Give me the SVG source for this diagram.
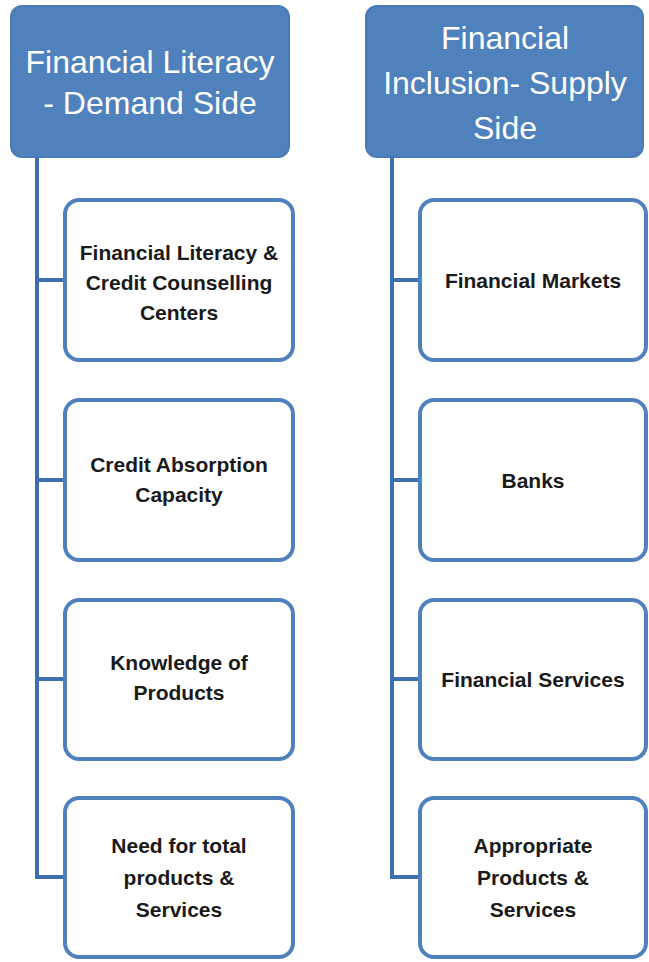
<svg xmlns="http://www.w3.org/2000/svg" width="649" height="962" viewBox="0 0 649 962">
<style>
.hdr{fill:#4F81BD;stroke:#4A7BB6;stroke-width:2}
.box{fill:#FFFFFF;stroke:#4F81BD;stroke-width:4}
.ht{font-family:"Liberation Sans",Arial,sans-serif;font-size:32px;fill:#FFFFFF;text-anchor:middle}
.bt{font-family:"Liberation Sans",Arial,sans-serif;font-size:21px;font-weight:bold;fill:#1A1A1A;text-anchor:middle}
.con{fill:none;stroke:#3E6FAE;stroke-width:4}
</style>
<rect width="649" height="962" fill="#FFFFFF"/>
<g id="connectors">
<path class="con" d="M37 158 V877 H65"/>
<path class="con" d="M37 280 H65 M37 480 H65 M37 679 H65"/>
<path class="con" d="M392 158 V877 H420"/>
<path class="con" d="M392 280 H420 M392 480 H420 M392 679 H420"/>
</g>
<g id="hdr-left">
<rect class="hdr" x="11" y="6" width="278" height="151" rx="11"/>
<text class="ht" x="150" y="73">Financial Literacy</text>
<text class="ht" x="150" y="114">- Demand Side</text>
</g>
<g id="hdr-right">
<rect class="hdr" x="366" y="6" width="277" height="151" rx="11"/>
<text class="ht" x="505" y="49">Financial</text>
<text class="ht" x="505" y="94">Inclusion- Supply</text>
<text class="ht" x="505" y="139">Side</text>
</g>
<g id="l1">
<rect class="box" x="65" y="200" width="228" height="160" rx="14"/>
<text class="bt" x="179" y="260">Financial Literacy &amp;</text>
<text class="bt" x="179" y="290">Credit Counselling</text>
<text class="bt" x="179" y="320">Centers</text>
</g>
<g id="l2">
<rect class="box" x="65" y="400" width="228" height="160" rx="14"/>
<text class="bt" x="179" y="472">Credit Absorption</text>
<text class="bt" x="179" y="502">Capacity</text>
</g>
<g id="l3">
<rect class="box" x="65" y="600" width="228" height="159" rx="14"/>
<text class="bt" x="179" y="670">Knowledge of</text>
<text class="bt" x="179" y="700">Products</text>
</g>
<g id="l4">
<rect class="box" x="65" y="798" width="228" height="159" rx="14"/>
<text class="bt" x="179" y="853">Need for total</text>
<text class="bt" x="179" y="885">products &amp;</text>
<text class="bt" x="179" y="917">Services</text>
</g>
<g id="r1">
<rect class="box" x="420" y="200" width="226" height="160" rx="14"/>
<text class="bt" x="533" y="288">Financial Markets</text>
</g>
<g id="r2">
<rect class="box" x="420" y="400" width="226" height="160" rx="14"/>
<text class="bt" x="533" y="488">Banks</text>
</g>
<g id="r3">
<rect class="box" x="420" y="600" width="226" height="159" rx="14"/>
<text class="bt" x="533" y="687">Financial Services</text>
</g>
<g id="r4">
<rect class="box" x="420" y="798" width="226" height="159" rx="14"/>
<text class="bt" x="533" y="853">Appropriate</text>
<text class="bt" x="533" y="885">Products &amp;</text>
<text class="bt" x="533" y="917">Services</text>
</g>
</svg>
